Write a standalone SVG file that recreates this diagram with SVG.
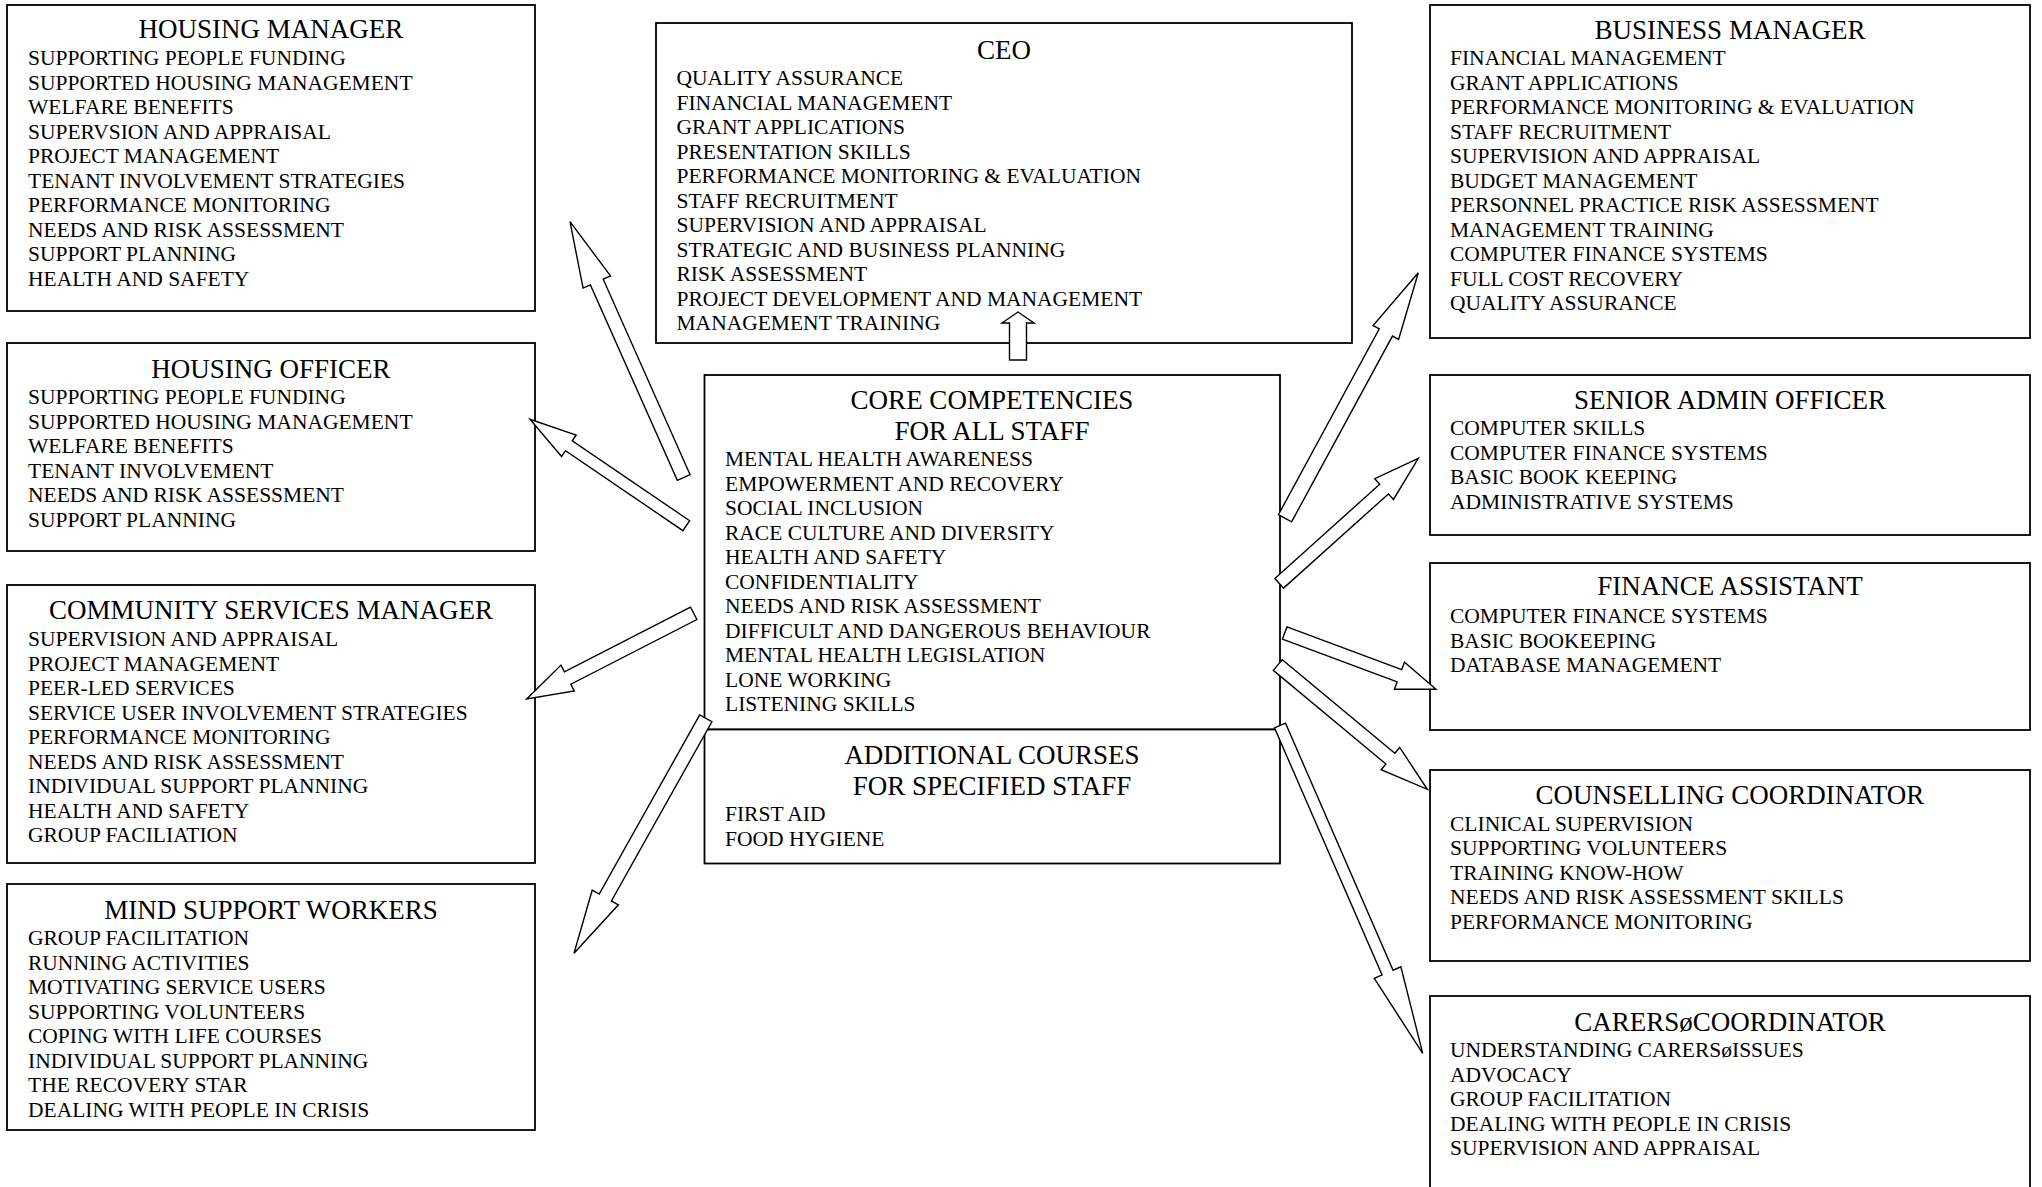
<svg xmlns="http://www.w3.org/2000/svg" width="2042" height="1187" viewBox="0 0 2042 1187">
<style>
.box{fill:#fff;stroke:#000;stroke-width:1.8}
.t{font-family:"Liberation Serif","Times New Roman",serif;font-size:27px;text-anchor:middle;fill:#000}
.b{font-family:"Liberation Serif","Times New Roman",serif;font-size:21.5px;fill:#000}
.arr{fill:#fff;stroke:#000;stroke-width:1.4;stroke-linejoin:miter}
</style>
<rect width="2042" height="1187" fill="#fff"/>
<g id="housing-manager">
<rect class="box" x="7" y="5" width="528" height="306"/>
<text class="t" x="271" y="38.3">HOUSING MANAGER</text>
<text class="b" x="28" y="65">SUPPORTING PEOPLE FUNDING</text>
<text class="b" x="28" y="89.5">SUPPORTED HOUSING MANAGEMENT</text>
<text class="b" x="28" y="114">WELFARE BENEFITS</text>
<text class="b" x="28" y="138.5">SUPERVSION AND APPRAISAL</text>
<text class="b" x="28" y="163">PROJECT MANAGEMENT</text>
<text class="b" x="28" y="187.5">TENANT INVOLVEMENT STRATEGIES</text>
<text class="b" x="28" y="212">PERFORMANCE MONITORING</text>
<text class="b" x="28" y="236.5">NEEDS AND RISK ASSESSMENT</text>
<text class="b" x="28" y="261">SUPPORT PLANNING</text>
<text class="b" x="28" y="285.5">HEALTH AND SAFETY</text>
</g>
<g id="housing-officer">
<rect class="box" x="7" y="343" width="528" height="208"/>
<text class="t" x="271" y="378">HOUSING OFFICER</text>
<text class="b" x="28" y="404">SUPPORTING PEOPLE FUNDING</text>
<text class="b" x="28" y="428.5">SUPPORTED HOUSING MANAGEMENT</text>
<text class="b" x="28" y="453">WELFARE BENEFITS</text>
<text class="b" x="28" y="477.5">TENANT INVOLVEMENT</text>
<text class="b" x="28" y="502">NEEDS AND RISK ASSESSMENT</text>
<text class="b" x="28" y="526.5">SUPPORT PLANNING</text>
</g>
<g id="community-services-manager">
<rect class="box" x="7" y="585" width="528" height="278"/>
<text class="t" x="271" y="619">COMMUNITY SERVICES MANAGER</text>
<text class="b" x="28" y="646.4">SUPERVISION AND APPRAISAL</text>
<text class="b" x="28" y="670.9">PROJECT MANAGEMENT</text>
<text class="b" x="28" y="695.4">PEER-LED SERVICES</text>
<text class="b" x="28" y="719.9">SERVICE USER INVOLVEMENT STRATEGIES</text>
<text class="b" x="28" y="744.4">PERFORMANCE MONITORING</text>
<text class="b" x="28" y="768.9">NEEDS AND RISK ASSESSMENT</text>
<text class="b" x="28" y="793.4">INDIVIDUAL SUPPORT PLANNING</text>
<text class="b" x="28" y="817.9">HEALTH AND SAFETY</text>
<text class="b" x="28" y="842.4">GROUP FACILIATION</text>
</g>
<g id="mind-support-workers">
<rect class="box" x="7" y="884" width="528" height="246"/>
<text class="t" x="271" y="919.3">MIND SUPPORT WORKERS</text>
<text class="b" x="28" y="945">GROUP FACILITATION</text>
<text class="b" x="28" y="969.5">RUNNING ACTIVITIES</text>
<text class="b" x="28" y="994">MOTIVATING SERVICE USERS</text>
<text class="b" x="28" y="1018.5">SUPPORTING VOLUNTEERS</text>
<text class="b" x="28" y="1043">COPING WITH LIFE COURSES</text>
<text class="b" x="28" y="1067.5">INDIVIDUAL SUPPORT PLANNING</text>
<text class="b" x="28" y="1092">THE RECOVERY STAR</text>
<text class="b" x="28" y="1116.5">DEALING WITH PEOPLE IN CRISIS</text>
</g>
<g id="ceo">
<rect class="box" x="656" y="23" width="696" height="320"/>
<text class="t" x="1004" y="59.3">CEO</text>
<text class="b" x="676.5" y="85">QUALITY ASSURANCE</text>
<text class="b" x="676.5" y="109.5">FINANCIAL MANAGEMENT</text>
<text class="b" x="676.5" y="134">GRANT APPLICATIONS</text>
<text class="b" x="676.5" y="158.5">PRESENTATION SKILLS</text>
<text class="b" x="676.5" y="183">PERFORMANCE MONITORING &amp; EVALUATION</text>
<text class="b" x="676.5" y="207.5">STAFF RECRUITMENT</text>
<text class="b" x="676.5" y="232">SUPERVISION AND APPRAISAL</text>
<text class="b" x="676.5" y="256.5">STRATEGIC AND BUSINESS PLANNING</text>
<text class="b" x="676.5" y="281">RISK ASSESSMENT</text>
<text class="b" x="676.5" y="305.5">PROJECT DEVELOPMENT AND MANAGEMENT</text>
<text class="b" x="676.5" y="330">MANAGEMENT TRAINING</text>
</g>
<g id="core-competencies">
<rect class="box" x="704.5" y="375" width="575.5" height="354.5"/>
<text class="t" x="992" y="409.3">CORE COMPETENCIES</text>
<text class="t" x="992" y="440">FOR ALL STAFF</text>
<text class="b" x="725" y="466">MENTAL HEALTH AWARENESS</text>
<text class="b" x="725" y="490.5">EMPOWERMENT AND RECOVERY</text>
<text class="b" x="725" y="515">SOCIAL INCLUSION</text>
<text class="b" x="725" y="539.5">RACE CULTURE AND DIVERSITY</text>
<text class="b" x="725" y="564">HEALTH AND SAFETY</text>
<text class="b" x="725" y="588.5">CONFIDENTIALITY</text>
<text class="b" x="725" y="613">NEEDS AND RISK ASSESSMENT</text>
<text class="b" x="725" y="637.5">DIFFICULT AND DANGEROUS BEHAVIOUR</text>
<text class="b" x="725" y="662">MENTAL HEALTH LEGISLATION</text>
<text class="b" x="725" y="686.5">LONE WORKING</text>
<text class="b" x="725" y="711">LISTENING SKILLS</text>
</g>
<g id="additional-courses">
<rect class="box" x="704.5" y="729.5" width="575.5" height="134"/>
<text class="t" x="992" y="764.3">ADDITIONAL COURSES</text>
<text class="t" x="992" y="795">FOR SPECIFIED STAFF</text>
<text class="b" x="725" y="821">FIRST AID</text>
<text class="b" x="725" y="845.5">FOOD HYGIENE</text>
</g>
<g id="business-manager">
<rect class="box" x="1430" y="5" width="600" height="333"/>
<text class="t" x="1730" y="39.3">BUSINESS MANAGER</text>
<text class="b" x="1450" y="65">FINANCIAL MANAGEMENT</text>
<text class="b" x="1450" y="89.5">GRANT APPLICATIONS</text>
<text class="b" x="1450" y="114">PERFORMANCE MONITORING &amp; EVALUATION</text>
<text class="b" x="1450" y="138.5">STAFF RECRUITMENT</text>
<text class="b" x="1450" y="163">SUPERVISION AND APPRAISAL</text>
<text class="b" x="1450" y="187.5">BUDGET MANAGEMENT</text>
<text class="b" x="1450" y="212">PERSONNEL PRACTICE RISK ASSESSMENT</text>
<text class="b" x="1450" y="236.5">MANAGEMENT TRAINING</text>
<text class="b" x="1450" y="261">COMPUTER FINANCE SYSTEMS</text>
<text class="b" x="1450" y="285.5">FULL COST RECOVERY</text>
<text class="b" x="1450" y="310">QUALITY ASSURANCE</text>
</g>
<g id="senior-admin-officer">
<rect class="box" x="1430" y="375" width="600" height="160"/>
<text class="t" x="1730" y="409">SENIOR ADMIN OFFICER</text>
<text class="b" x="1450" y="435">COMPUTER SKILLS</text>
<text class="b" x="1450" y="459.5">COMPUTER FINANCE SYSTEMS</text>
<text class="b" x="1450" y="484">BASIC BOOK KEEPING</text>
<text class="b" x="1450" y="508.5">ADMINISTRATIVE SYSTEMS</text>
</g>
<g id="finance-assistant">
<rect class="box" x="1430" y="563" width="600" height="167"/>
<text class="t" x="1730" y="595.4">FINANCE ASSISTANT</text>
<text class="b" x="1450" y="623">COMPUTER FINANCE SYSTEMS</text>
<text class="b" x="1450" y="647.5">BASIC BOOKEEPING</text>
<text class="b" x="1450" y="672">DATABASE MANAGEMENT</text>
</g>
<g id="counselling-coordinator">
<rect class="box" x="1430" y="770" width="600" height="191"/>
<text class="t" x="1730" y="804">COUNSELLING COORDINATOR</text>
<text class="b" x="1450" y="830.5">CLINICAL SUPERVISION</text>
<text class="b" x="1450" y="855">SUPPORTING VOLUNTEERS</text>
<text class="b" x="1450" y="879.5">TRAINING KNOW-HOW</text>
<text class="b" x="1450" y="904">NEEDS AND RISK ASSESSMENT SKILLS</text>
<text class="b" x="1450" y="928.5">PERFORMANCE MONITORING</text>
</g>
<g id="carers-coordinator">
<rect class="box" x="1430" y="996" width="600" height="210"/>
<text class="t" x="1730" y="1030.7">CARERSøCOORDINATOR</text>
<text class="b" x="1450" y="1057">UNDERSTANDING CARERSøISSUES</text>
<text class="b" x="1450" y="1081.5">ADVOCACY</text>
<text class="b" x="1450" y="1106">GROUP FACILITATION</text>
<text class="b" x="1450" y="1130.5">DEALING WITH PEOPLE IN CRISIS</text>
<text class="b" x="1450" y="1155">SUPERVISION AND APPRAISAL</text>
</g>
<g id="connectors">
<polygon class="arr" points="690.10,474.66 603.21,279.17 610.52,275.92 570,221.7 583.10,288.10 590.41,284.85 677.30,480.34"/>
<polygon class="arr" points="689.68,520.74 572.23,440.79 576.17,435.00 530,419.3 561.54,456.50 565.47,450.71 682.92,530.66"/>
<polygon class="arr" points="690.50,607.07 564.43,671.77 561.01,665.10 526.7,699 574.25,690.90 570.83,684.23 696.90,619.53"/>
<polygon class="arr" points="699.70,714.88 599.20,894.06 592.23,890.14 574,953.3 618.39,904.82 611.41,900.90 711.91,721.72"/>
<polygon class="arr" points="1026.5,360 1026.5,323 1034,323 1018,312 1002,323 1009.5,323 1009.5,360"/>
<polygon class="arr" points="1291.59,521.88 1392.45,336.05 1398.60,339.39 1418.3,272.7 1373.12,325.55 1379.27,328.89 1278.41,514.72"/>
<polygon class="arr" points="1283.55,588.14 1388.43,493.88 1393.45,499.46 1418.3,458.3 1374.73,478.64 1379.75,484.22 1274.86,578.47"/>
<polygon class="arr" points="1282.43,639.09 1397.18,681.79 1394.39,689.29 1436,689.3 1404.51,662.11 1401.72,669.61 1286.97,626.91"/>
<polygon class="arr" points="1273.33,670.38 1385.92,763.99 1381.12,769.76 1427.3,789.3 1399.66,747.46 1394.87,753.23 1282.28,659.62"/>
<polygon class="arr" points="1274.50,727.90 1382.07,975.01 1374.28,978.40 1422.7,1053.3 1400.87,966.82 1393.07,970.22 1285.50,723.11"/>
</g>
</svg>
